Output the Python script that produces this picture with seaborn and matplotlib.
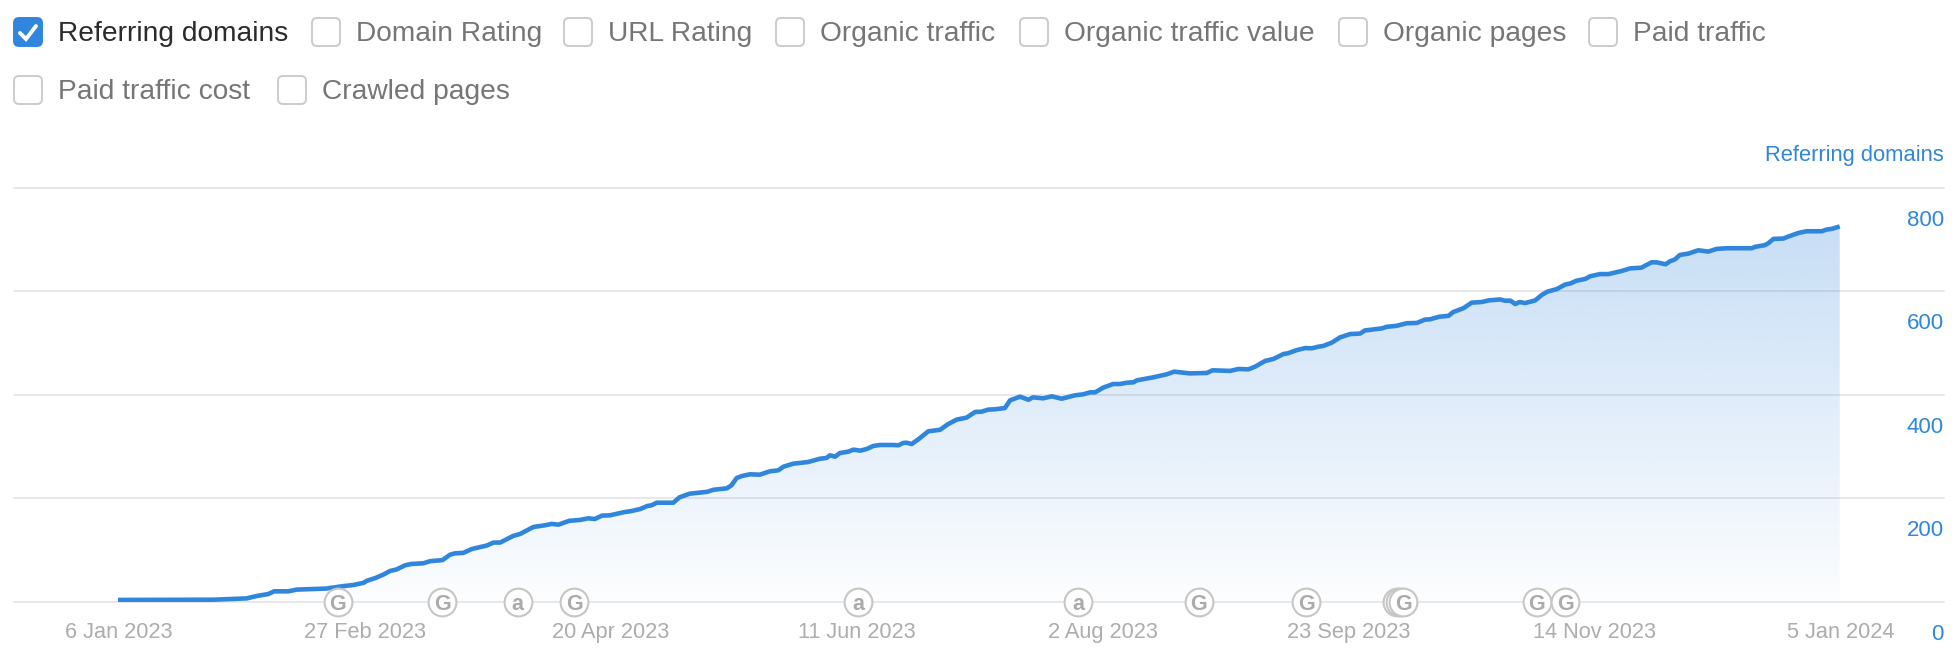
import numpy as np
import pandas as pd
import seaborn as sns
import matplotlib.pyplot as plt
import matplotlib.dates as mdates
from matplotlib.patches import FancyBboxPatch
from matplotlib.transforms import ScaledTranslation

START = "2023-01-06"

days = [0, 20.2, 27.2, 29.3, 31.8, 33, 36, 37.8, 40.6, 44, 47, 49.8, 51.9, 52.6, 54.3, 56.1,
        57.5, 58.9, 60.7, 62, 64.6, 66, 68.6, 70.2, 71.2, 73, 74.8, 77.9, 79.4, 80.8, 83.6, 85,
        87.8, 90, 91.7, 93.1, 95.4, 97.7, 99.4, 100.8, 102.3, 104, 106.8, 108.6, 110.4, 111.9,
        112.8, 113.9, 117.4, 118.7, 120.9, 124.5, 125.9, 128.7, 129.7, 130.8, 131.9, 133.6,
        135.7, 137.8, 139.6, 140.7, 142.8, 145.9, 148.4, 149.8, 150.5, 151.6, 152.6, 154.4,
        155.5, 156.9, 158.3, 159.7, 161.1, 163.9, 165, 166, 166.7, 167.8, 169.2, 171.3, 173.8,
        175.5, 177.3, 179.4, 181.2, 182.6, 184, 185.4, 187.5, 188.6, 190.7, 192.5, 193.4, 195.6,
        197.4, 199.5, 202.3, 204.1, 205.5, 206.6, 208.3, 210.4, 211.8, 213.3, 214.7, 215.4,
        218.9, 221.7, 223.3, 226.6, 230.2, 231.4, 235.1, 236.9, 239, 240.4, 242.5, 244.3, 246.4,
        247.4, 249.2, 251, 252.4, 253.8, 254.8, 256.6, 258.4, 260.5, 262.6, 263.6, 267.2, 268.2,
        270.3, 272.5, 274.6, 276.3, 277.4, 279.3, 281.3, 282.3, 284.4, 286.2, 288.3, 289.7,
        292.2, 293.2, 294.4, 295.4, 296.3, 297.5, 299.6, 301, 302.2, 304.2, 305.9, 307.1, 308.3,
        310.2, 311.2, 313.3, 315.1, 317.9, 319.7, 322.1, 324.2, 325.3, 327.2, 328.1, 329.2,
        330.2, 332, 334.1, 336.2, 338, 340.1, 345.4, 346.1, 348.2, 348.9, 350, 352.1, 353.1,
        355.3, 357, 360.2, 361.2, 362.3, 364]
domains = [3, 3.5, 6, 10.6, 14.5, 19.7, 19.7, 23, 24, 25, 29, 32, 36, 40, 45, 52,
           59, 62, 70, 72.5, 74, 78, 80, 90.5, 93, 94, 101.5, 108, 114, 114, 127, 130.5,
           144, 147, 150, 148.5, 156, 157.7, 160.8, 159.5, 166, 166.6, 172.4, 175, 178.8, 184.6,
           186, 191, 191, 201.4, 208.5, 212, 216, 218.8, 224.6, 238.8, 242.6, 245.9,
           245.2, 251.7, 253.6, 260.7, 266.5, 269.7, 276, 277.5, 282.6, 280, 287, 289.7,
           293.6, 291.6, 294.9, 300.7, 302.6, 302.6, 302, 306.5, 307, 304.5, 313.5, 329, 332,
           343, 351.6, 355.5, 366.4, 367, 371, 371.6, 374, 389, 396, 390, 394.7, 392.8,
           396.7, 392, 398.6, 400.6, 404.4, 404.4, 413.5, 420.5, 420.5, 423, 423.8, 427.6,
           433.4, 439.2, 444.4, 441, 441.8, 447, 445.8, 449.5, 448.9, 454, 465, 469, 478.5,
           480, 486, 490, 489.5, 492.7, 494, 500.4, 510.8, 517, 518, 524, 528, 531,
           533, 538, 538.5, 545, 545.6, 550.5, 552.3, 559.7, 566.8, 577.8, 579, 582,
           584, 581.6, 581.6, 575, 579, 577, 582, 592.5, 599, 604, 612.6, 615, 620,
           623.6, 628.7, 633, 633, 639, 644, 645.4, 655.7, 655.7, 652, 657.7, 661.6,
           670, 672.6, 679, 676.5, 681.7, 683, 683, 685.6, 689, 692.7, 701, 701.7, 705.5,
           712.6, 715.8, 715.8, 719, 720.4, 725]

x_tick_dates = ["2023-01-06", "2023-02-27", "2023-04-20", "2023-06-11", "2023-08-02",
                "2023-09-23", "2023-11-14", "2024-01-05"]
x_tick_labels = ["6 Jan 2023", "27 Feb 2023", "20 Apr 2023", "11 Jun 2023", "2 Aug 2023",
                 "23 Sep 2023", "14 Nov 2023", "5 Jan 2024"]
y_ticks = [0, 200, 400, 600, 800]

event_days = [46.5, 68.5, 84.5, 96.5, 156.5, 203, 228.5, 251.2, 270.4, 271, 271.7, 300, 306]
# the two hidden rings in the October cluster show no letter
event_kinds = ["G", "G", "a", "G", "a", "a", "G", "G", "", "", "G", "G", "G"]

option_labels = ["Referring domains", "Domain Rating", "URL Rating", "Organic traffic",
                 "Organic traffic value", "Organic pages", "Paid traffic",
                 "Paid traffic cost", "Crawled pages"]
option_box_x = [14, 312, 564, 776, 1020, 1339, 1589, 14, 278]
option_box_y = [18, 18, 18, 18, 18, 18, 18, 76, 76]

BLUE = "#3086dd"

sns.set_theme(style="white")
plt.rcParams["font.family"] = ["Liberation Sans", "DejaVu Sans"]

df = pd.DataFrame({"date": pd.Timestamp(START) + pd.to_timedelta(days, unit="D"), "domains": domains})

fig = plt.figure(figsize=(19.56, 6.66), dpi=100)
ax = fig.add_axes([14 / 1956, (666 - 601.5) / 666, 1930 / 1956, 413.8 / 666])

sns.lineplot(data=df, x="date", y="domains", color=BLUE, linewidth=3.3, ax=ax, zorder=4,
             solid_joinstyle="round", solid_capstyle="butt")

# gradient under the line, clipped to the area
poly = ax.fill_between(df["date"], df["domains"], 0, facecolor="none", edgecolor="none")
x0, x1 = mdates.date2num(df["date"].iloc[0]), mdates.date2num(df["date"].iloc[-1])
grad = np.zeros((256, 2, 4))
grad[..., :3] = [48 / 255, 133 / 255, 220 / 255]
grad[..., 3] = np.linspace(0.015, 0.27, 256)[:, None]
img = ax.imshow(grad, extent=[x0, x1, 0, max(domains)], origin="lower", aspect="auto", zorder=3)
img.set_clip_path(poly.get_paths()[0], transform=ax.transData)

ax.set_xlim(x0 - 104 / 4.73, x0 + 1826 / 4.73)
ax.set_ylim(0, 800)
ax.set_xlabel("")
ax.set_ylabel("")
sns.despine(ax=ax, left=True, bottom=True)

ax.set_xticks(pd.to_datetime(x_tick_dates))
ax.set_xticklabels(x_tick_labels, fontsize=15.7, color="#adadad")
ax.tick_params(axis="x", length=0, pad=15)
x_shift = ScaledTranslation(0.01, 0, fig.dpi_scale_trans)
for lab in ax.get_xticklabels():
    lab.set_transform(lab.get_transform() + x_shift)

ax.yaxis.tick_right()
ax.set_yticks(y_ticks)
ax.set_yticklabels([str(v) for v in y_ticks], fontsize=16, color=BLUE, ha="right", va="center")
ax.tick_params(axis="y", length=0, pad=0)
y_shift = ScaledTranslation(0, -0.325, fig.dpi_scale_trans)
for lab in ax.get_yticklabels():
    lab.set_transform(lab.get_transform() + y_shift)

ax.grid(axis="y", color="#e8e8e8", linewidth=1.4)
ax.set_axisbelow(True)
for gl in ax.get_ygridlines():
    gl.set_clip_on(False)

# update markers sitting on the baseline
event_x = x0 + np.array(event_days)
ax.scatter(event_x, [0] * len(event_x), s=400, facecolor="white", edgecolor="#c6c6c6",
           linewidth=1.5, clip_on=False, zorder=5)
for ex, kind in zip(event_x, event_kinds):
    if kind:
        ax.text(ex, 0, kind, ha="center", va="center_baseline", fontsize=15.5, fontweight="bold",
                color="#ababab", zorder=6, clip_on=False)

# checkbox row, in pixel coordinates
top = fig.add_axes([0, 0, 1, 1], facecolor="none")
top.set_xlim(0, 1956)
top.set_ylim(666, 0)
top.axis("off")
for i, (label, bx, by) in enumerate(zip(option_labels, option_box_x, option_box_y)):
    on = i == 0
    top.add_patch(FancyBboxPatch((bx + 5, by + 5), 18, 18, boxstyle="round,pad=5,rounding_size=5",
                                 facecolor=BLUE if on else "white", edgecolor=BLUE if on else "#cccccc",
                                 linewidth=1.4))
    top.text(bx + 44, by + 16, label, ha="left", va="center", fontsize=20.25,
             color="#2b2b2b" if on else "#767676")
top.plot([20, 26, 36], [33, 39, 26], color="white", linewidth=2.8, solid_capstyle="round",
         solid_joinstyle="miter")
top.text(1944, 155, "Referring domains", ha="right", va="center", fontsize=15.8, color=BLUE)

fig.savefig("out.png", dpi=100)
